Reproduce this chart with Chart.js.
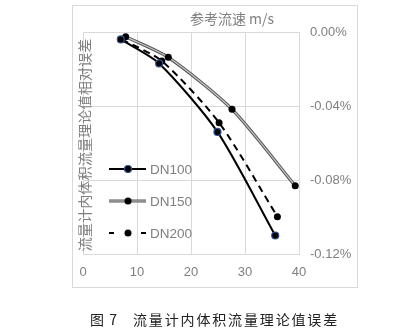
<!DOCTYPE html>
<html>
<head>
<meta charset="utf-8">
<script src="https://cdn.jsdelivr.net/npm/chart.js@4/dist/chart.umd.min.js"></script>
<style>
    body { margin: 0; background: #fff; }
    #wrap { position: relative; width: 419px; height: 333px; }
    .cap {
        position: absolute; top: 309px;
        font-family: "Noto Sans CJK SC", sans-serif; font-size: 14px; color: #222;
        white-space: pre; line-height: 20px;
    }
</style>
</head>
<body>
<div id="wrap">
    <canvas id="chart" width="419" height="333"></canvas>
    <div class="cap" style="left:90px;letter-spacing:1px">图 7</div>
    <div class="cap" style="left:133px;letter-spacing:1.85px">流量计内体积流量理论值误差</div>
</div>
<script>
// reference speed (m/s) and relative error (%)
const dn100Speed = [7.0, 14.1, 24.9, 35.6];
const dn100Error = [-0.004, -0.017, -0.054, -0.110];
const dn150Speed = [7.9, 15.8, 27.6, 39.3];
const dn150Error = [-0.0025, -0.0137, -0.0418, -0.0831];
const dn200Speed = [7.2, 14.6, 25.2, 36.0];
const dn200Error = [-0.004, -0.0157, -0.049, -0.0998];
const seriesNames = ['DN100', 'DN150', 'DN200'];
const xTicks = [0, 10, 20, 30, 40];
const yTicks = [0, -0.04, -0.08, -0.12];
const chartTitle = '参考流速 m/s';
const yTitle = '流量计内体积流量理论值相对误差';

const gray = '#7f7f7f';
const gridColor = '#d9d9d9';

function toPoints(xs, ys) {
    return xs.map((x, i) => ({ x: x, y: ys[i] }));
}

// frame, title, y title and the legend are painted here
const decor = {
    id: 'decor',
    beforeDraw(chart) {
        const ctx = chart.ctx;
        ctx.save();
        ctx.strokeStyle = gridColor;
        ctx.lineWidth = 1;
        ctx.strokeRect(72.5, 5.5, 285, 282);
        ctx.restore();
    },
    afterDraw(chart) {
        const ctx = chart.ctx;
        ctx.save();
        ctx.fillStyle = gray;
        ctx.font = '14px "Noto Sans CJK SC", sans-serif';
        ctx.textAlign = 'center';
        ctx.textBaseline = 'middle';
        ctx.fillText(chartTitle, 232, 19);

        ctx.translate(85, 145);
        ctx.rotate(-Math.PI / 2);
        ctx.font = '14.2px "Noto Sans CJK SC", sans-serif';
        ctx.fillText(yTitle, 0, 0);
        ctx.restore();

        // legend
        const rows = [169, 201, 233];
        ctx.save();
        rows.forEach((y, i) => {
            if (i === 0) {
                ctx.strokeStyle = '#000';
                ctx.lineWidth = 2;
                ctx.beginPath(); ctx.moveTo(109, y); ctx.lineTo(146, y); ctx.stroke();
            } else if (i === 1) {
                ctx.strokeStyle = '#555';
                ctx.lineWidth = 3.2;
                ctx.beginPath(); ctx.moveTo(109, y); ctx.lineTo(146, y); ctx.stroke();
                ctx.strokeStyle = '#c8c8c8';
                ctx.lineWidth = 1.2;
                ctx.beginPath(); ctx.moveTo(109, y); ctx.lineTo(146, y); ctx.stroke();
            } else {
                ctx.strokeStyle = '#000';
                ctx.lineWidth = 2;
                ctx.beginPath(); ctx.moveTo(109, y); ctx.lineTo(114, y); ctx.stroke();
                ctx.beginPath(); ctx.moveTo(141, y); ctx.lineTo(146, y); ctx.stroke();
            }
            ctx.beginPath();
            ctx.arc(128, y, 3.5, 0, Math.PI * 2);
            ctx.fillStyle = '#000';
            ctx.fill();
            if (i === 0) {
                ctx.strokeStyle = '#2f4f8f';
                ctx.lineWidth = 1.2;
                ctx.stroke();
            }
            ctx.fillStyle = gray;
            ctx.font = '13.5px "Liberation Sans", Arial, sans-serif';
            ctx.textAlign = 'left';
            ctx.textBaseline = 'middle';
            ctx.fillText(seriesNames[i], 150, y + 1);
        });
        ctx.restore();
    }
};

new Chart(document.getElementById('chart'), {
    type: 'line',
    data: {
        datasets: [
            {
                label: seriesNames[0],
                data: toPoints(dn100Speed, dn100Error),
                borderColor: '#000',
                borderWidth: 2,
                pointRadius: 3.5,
                pointBackgroundColor: '#000',
                pointBorderColor: '#2f4f8f',
                pointBorderWidth: 1.2,
                tension: 0.25,
                order: 1
            },
            {
                label: seriesNames[1] + ' outline',
                data: toPoints(dn150Speed, dn150Error),
                borderColor: '#555',
                borderWidth: 3.2,
                pointRadius: 0,
                tension: 0.25,
                order: 4
            },
            {
                label: seriesNames[1],
                data: toPoints(dn150Speed, dn150Error),
                borderColor: '#c8c8c8',
                borderWidth: 1.2,
                pointRadius: 3.5,
                pointBackgroundColor: '#000',
                pointBorderColor: '#000',
                pointBorderWidth: 0,
                tension: 0.25,
                order: 3
            },
            {
                label: seriesNames[2],
                data: toPoints(dn200Speed, dn200Error),
                borderColor: '#000',
                borderWidth: 2,
                borderDash: [7, 5],
                pointRadius: 3.5,
                pointBackgroundColor: '#000',
                pointBorderColor: '#000',
                pointBorderWidth: 0,
                tension: 0.25,
                order: 2
            }
        ]
    },
    options: {
        responsive: false,
        animation: false,
        layout: { padding: { left: 83, top: 32, right: 62, bottom: 49 } },
        plugins: {
            legend: { display: false },
            title: { display: false },
            tooltip: { enabled: false }
        },
        scales: {
            x: {
                type: 'linear',
                min: xTicks[0],
                max: xTicks[xTicks.length - 1],
                afterBuildTicks: s => { s.ticks = xTicks.map(v => ({ value: v })); },
                afterFit: s => { s.height = 30; },
                grid: { color: gridColor, drawTicks: false },
                border: { color: gridColor },
                ticks: { color: gray, font: { family: '"Liberation Sans", Arial, sans-serif', size: 13 }, padding: 11 }
            },
            y: {
                position: 'right',
                min: yTicks[yTicks.length - 1],
                max: yTicks[0],
                afterBuildTicks: s => { s.ticks = yTicks.map(v => ({ value: v })); },
                afterFit: s => { s.width = 58; },
                grid: { color: gridColor, drawTicks: false },
                border: { color: gridColor },
                ticks: {
                    color: gray,
                    font: { family: '"Liberation Sans", Arial, sans-serif', size: 13 },
                    padding: 11,
                    callback: v => v.toFixed(2) + '%'
                }
            }
        }
    },
    plugins: [decor]
});
</script>
</body>
</html>
